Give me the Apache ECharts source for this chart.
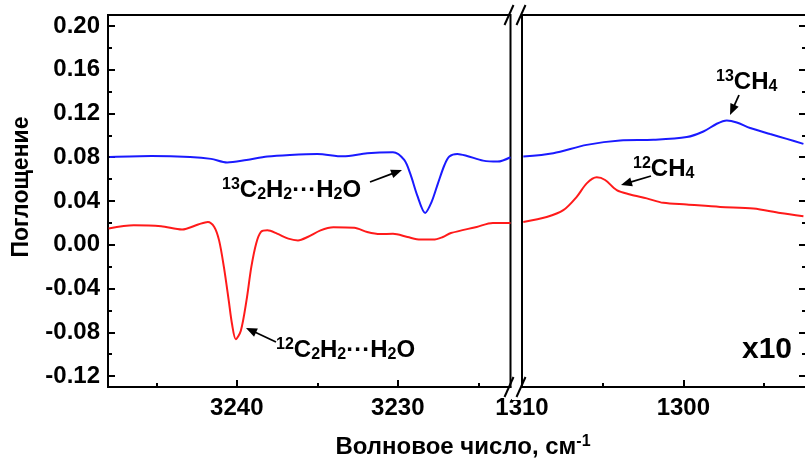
<!DOCTYPE html>
<html><head><meta charset="utf-8">
<script src="https://cdn.jsdelivr.net/npm/echarts@6/dist/echarts.min.js"></script>
<style>html,body{margin:0;padding:0;background:#fff}#c{width:805px;height:466px}</style>
</head><body><div id="c"></div>
<script>
// ---- data ----
const blueLeftWn  = [3247.9,3245.3,3242.9,3241.6,3240.6,3239.4,3238.1,3236.7,3235.0,3233.4,3231.9,3230.3,3229.6,3229.2,3228.8,3228.3,3227.9,3227.5,3227.1,3226.8,3226.3,3225.7,3224.7,3223.8,3223.0];
const blueLeftAbs = [0.0803,0.0812,0.0803,0.0785,0.0752,0.0775,0.0806,0.0821,0.0830,0.0808,0.0837,0.0846,0.0775,0.0638,0.0454,0.0291,0.0392,0.0564,0.0729,0.0806,0.0830,0.0812,0.0769,0.0760,0.0800];
const redLeftWn   = [3247.96,3246.4,3244.7,3243.4,3242.4,3241.8,3241.4,3241.1,3240.8,3240.5,3240.3,3240.06,3239.75,3239.4,3239.1,3238.8,3238.5,3238.1,3237.5,3236.8,3236.2,3235.6,3234.8,3234.0,3232.7,3231.9,3231.1,3230.3,3229.4,3228.6,3227.8,3227.2,3226.7,3225.1,3224.1,3223.0];
const redLeftAbs  = [0.0148,0.0178,0.0169,0.0139,0.0185,0.0209,0.0163,0.0040,-0.0205,-0.0511,-0.0722,-0.0863,-0.0786,-0.0511,-0.0205,0.0010,0.0117,0.0132,0.0102,0.0056,0.0040,0.0071,0.0132,0.0160,0.0155,0.0117,0.0098,0.0100,0.0071,0.0047,0.0047,0.0071,0.0107,0.0163,0.0199,0.0199];
const blueRightWn  = [1309.92,1308.06,1305.99,1303.92,1301.86,1299.79,1298.76,1297.93,1297.31,1296.69,1295.86,1294.62,1293.59,1292.56];
const blueRightAbs = [0.0806,0.0837,0.0913,0.0953,0.0959,0.0984,0.1035,0.1106,0.1136,0.1118,0.1067,0.1012,0.0968,0.0922];
const redRightWn   = [1309.92,1308.47,1307.44,1306.61,1305.99,1305.37,1304.85,1304.13,1303.30,1302.27,1301.24,1299.79,1297.72,1295.66,1294.0,1292.56];
const redRightAbs  = [0.0209,0.0254,0.0316,0.0438,0.0561,0.0616,0.0592,0.0500,0.0460,0.0424,0.0383,0.0368,0.0346,0.0332,0.0291,0.0261];
const yMajor = [-0.12,-0.08,-0.04,0,0.04,0.08,0.12,0.16,0.20];
const yMinor = [-0.10,-0.06,-0.02,0.02,0.06,0.10,0.14,0.18];
const leftXMajor = [3240,3230];
const leftXMinor = [3245,3235,3225];
const rightXMajor = [1310,1300];
const rightXMinor = [1305,1295];

const FONT = '"Liberation Sans", Arial, sans-serif';
const zip = (a,b) => a.map((v,i)=>[v,b[i]]);
const Y_MIN = -0.13, Y_MAX = 0.21;

function yAx(grid, pos, ticks, len, line, labels){
  return {type:'value', gridIndex:grid, position:pos, min:Y_MIN, max:Y_MAX,
    axisLine:{show:line, onZero:false, lineStyle:{color:'#000', width:2}},
    axisTick:{show:!!ticks, inside:true, length:len, customValues:ticks||[], lineStyle:{color:'#000', width:2}},
    axisLabel:{show:!!labels, customValues:ticks||[], margin:8, color:'#000', fontSize:24, fontWeight:'bold', fontFamily:FONT,
      formatter:v=>v.toFixed(2)},
    splitLine:{show:false}};
}
function xAx(grid, min, max, ticks, len, line, labels){
  return {type:'value', gridIndex:grid, position:'bottom', min:min, max:max, inverse:true,
    axisLine:{show:line, onZero:false, lineStyle:{color:'#000', width:2}},
    axisTick:{show:true, inside:true, length:len, customValues:ticks, lineStyle:{color:'#000', width:2}},
    axisLabel:{show:labels, customValues:ticks, margin:9, color:'#000', fontSize:24, fontWeight:'bold', fontFamily:FONT,
      formatter:v=>String(Math.round(v))},
    splitLine:{show:false}};
}
function arrow(x1,y1,x2,y2){
  const dx=x2-x1, dy=y2-y1, L=Math.hypot(dx,dy), ux=dx/L, uy=dy/L, hl=11, hw=4.5;
  const bx=x2-ux*hl, by=y2-uy*hl;
  return [{type:'line', shape:{x1:x1,y1:y1,x2:bx+ux*2,y2:by+uy*2}, style:{stroke:'#000', lineWidth:1.8}, z:100},
          {type:'polygon', shape:{points:[[x2,y2],[bx-uy*hw,by+ux*hw],[bx+uy*hw,by-ux*hw]]}, style:{fill:'#000'}, z:100}];
}
const rich = {
  n:{fontSize:24, fontWeight:'bold', fontFamily:FONT, fill:'#000', lineHeight:26},
  sup:{fontSize:16, fontWeight:'bold', fontFamily:FONT, fill:'#000', verticalAlign:'top', lineHeight:15},
  sub:{fontSize:16, fontWeight:'bold', fontFamily:FONT, fill:'#000', verticalAlign:'bottom', lineHeight:15}
};
function label(txt,x,y){
  return {type:'text', x:x, y:y, z:100, style:{text:txt, rich:rich, align:'left', verticalAlign:'middle'}};
}
function slash(x,yc){
  return {type:'line', shape:{x1:x-4.5,y1:yc+10,x2:x+4.5,y2:yc-10}, style:{stroke:'#000', lineWidth:2}, z:100};
}

const chart = echarts.init(document.getElementById('c'), null, {renderer:'canvas'});
const lineStyle = c => ({color:c, width:2});
chart.setOption({
  backgroundColor:'#fff',
  animation:false,
  grid:[
    {left:108, right:294.5, top:15, bottom:79, show:true, borderColor:'#000', borderWidth:2, backgroundColor:'transparent', outerBoundsMode:'none'},
    {left:522, right:-1, top:15, bottom:79, show:true, borderColor:'#000', borderWidth:2, backgroundColor:'transparent', outerBoundsMode:'none'}
  ],
  xAxis:[
    xAx(0, 3223, 3248, leftXMajor, 7, true, true),
    xAx(0, 3223, 3248, leftXMinor, 4, false, false),
    xAx(1, 1292.4, 1310, rightXMajor, 7, true, true),
    xAx(1, 1292.4, 1310, rightXMinor, 4, false, false)
  ],
  yAxis:[
    yAx(0,'left', yMajor, 7, true, true),
    yAx(0,'left', yMinor, 4, false, false),
    yAx(1,'left', null, 0, true, false),
    yAx(1,'right', yMajor, 7, true, false),
    yAx(1,'right', yMinor, 4, false, false)
  ],
  series:[
    {type:'line', xAxisIndex:0, yAxisIndex:0, data:zip(blueLeftWn,blueLeftAbs), showSymbol:false, smooth:0.3, lineStyle:lineStyle('#1a1aff')},
    {type:'line', xAxisIndex:0, yAxisIndex:0, data:zip(redLeftWn,redLeftAbs), showSymbol:false, smooth:0.3, lineStyle:lineStyle('#ff1a1a')},
    {type:'line', xAxisIndex:2, yAxisIndex:2, data:zip(blueRightWn,blueRightAbs), showSymbol:false, smooth:0.3, lineStyle:lineStyle('#1a1aff')},
    {type:'line', xAxisIndex:2, yAxisIndex:2, data:zip(redRightWn,redRightAbs), showSymbol:false, smooth:0.3, lineStyle:lineStyle('#ff1a1a')}
  ],
  graphic:[
    {type:'text', x:22, y:187, rotation:Math.PI/2, z:100,
      style:{text:'Поглощение', align:'center', verticalAlign:'middle', fontSize:23, fontWeight:'bold', fontFamily:FONT, fill:'#000'}},
    {type:'text', x:463, y:447, z:100,
      style:{text:'{n|Волновое число, см}{sup|-1}', rich:rich, align:'center', verticalAlign:'middle'}},
    label('{sup|13}{n|C}{sub|2}{n|H}{sub|2}{n|···H}{sub|2}{n|O}', 222, 190),
    label('{sup|12}{n|C}{sub|2}{n|H}{sub|2}{n|···H}{sub|2}{n|O}', 276, 350),
    label('{sup|13}{n|CH}{sub|4}', 716, 82),
    label('{sup|12}{n|CH}{sub|4}', 633, 169),
    {type:'text', x:767, y:350, z:100,
      style:{text:'x10', align:'center', verticalAlign:'middle', fontSize:30, fontWeight:'bold', fontFamily:FONT, fill:'#000'}},
    ...arrow(370,182,402,170),
    ...arrow(276,342,246,328),
    ...arrow(739,95,730,115),
    ...arrow(651,176,621,185),
    {type:'rect', shape:{x:512, y:0, width:9, height:30}, style:{fill:'#fff'}, z:90},
    {type:'rect', shape:{x:512, y:375, width:9, height:25}, style:{fill:'#fff'}, z:90},
    slash(509,15), slash(521,15), slash(509,387), slash(521,387)
  ]
});
</script></body></html>
